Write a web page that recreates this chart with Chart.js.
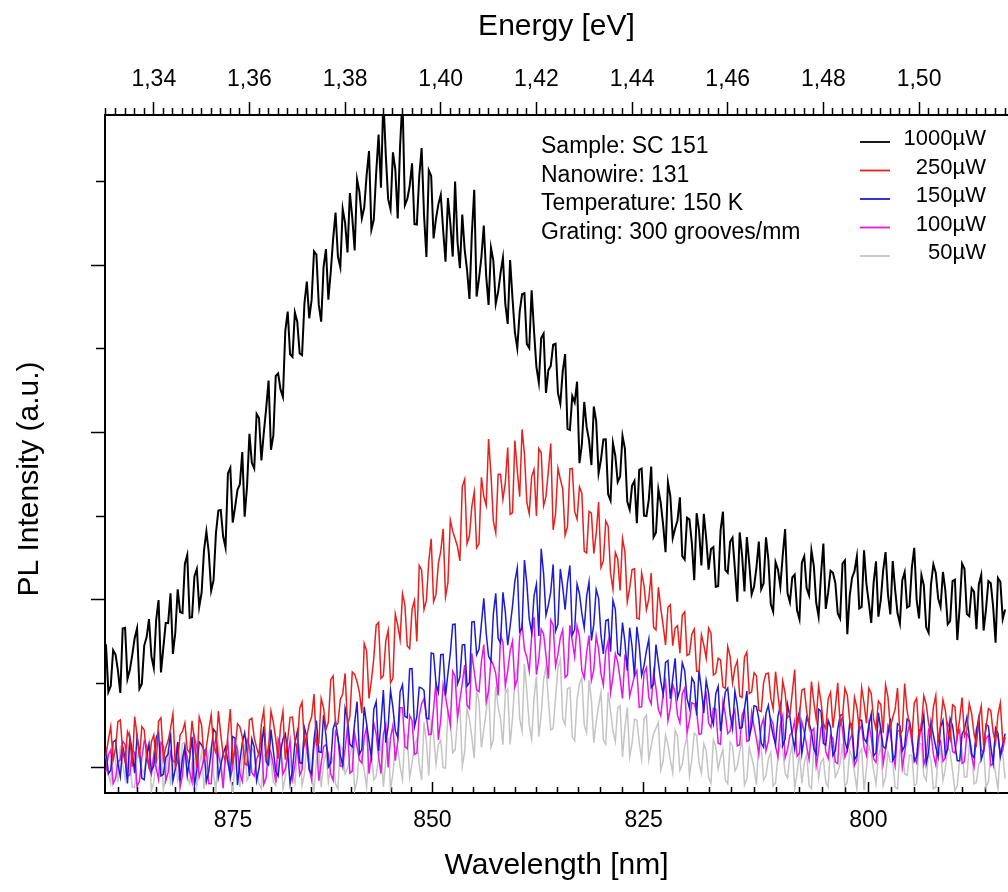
<!DOCTYPE html>
<html>
<head>
<meta charset="utf-8">
<script src="https://cdn.jsdelivr.net/npm/chart.js@4.4.1/dist/chart.umd.min.js"></script>
<style>html,body{margin:0;padding:0;background:#fff;overflow:hidden}canvas{display:block}</style>
</head>
<body>
<canvas id="c" width="1008" height="892"></canvas>
<script>
// ---- sampling grid (photon energy, eV) ----
const energyStart = 1.330;
const energyStep = 0.0005;

// ---- series (PL intensity, arbitrary units) ----
const seriesLabels = ['1000\u00B5W', '250\u00B5W', '150\u00B5W', '100\u00B5W', '50\u00B5W'];
const seriesColors = ['#000000', 'rgb(232,32,30)', 'rgb(28,28,212)', 'rgb(228,24,228)', 'rgb(196,196,196)'];

const p1000 = [734,449,484,699,673,578,443,828,832,527,
582,671,770,829,468,497,726,775,884,663,
592,880,998,566,714,862,860,1038,676,804,
1062,926,920,1214,1268,892,896,1140,1184,958,
1042,1295,1408,1281,1054,1117,1400,1533,1536,1379,
1312,1755,1788,1461,1554,1657,1690,1883,1496,1679,
1992,1818,1784,2110,2086,1832,1998,2144,2310,1896,
1982,2337,2352,2257,2212,2607,2722,2467,2452,2717,
2662,2472,2462,2772,2902,2682,2792,3082,3062,2762,
2662,2989,3096,2793,2960,3157,3314,3051,2988,3335,
3252,3076,3430,3284,3088,3512,3436,3280,3344,3538,
3682,3212,3272,3552,3780,3463,4000,3663,3394,3334,
3674,3571,3278,3714,4000,3358,3395,3471,3608,3245,
3242,3529,3700,3302,3049,3566,3533,3159,3276,3363,
3420,3210,3020,3400,3251,3051,3500,3141,2982,3302,
3092,2970,2798,3186,3450,2812,2920,3048,3236,2934,
2762,3104,3026,2768,2840,2952,3044,2766,2648,3030,
2802,2598,2504,2720,2826,2832,2528,2504,2850,2606,
2392,2298,2564,2590,2236,2372,2398,2524,2530,2236,
2172,2365,2468,2021,2014,2217,2180,2303,1816,1929,
2182,2033,1954,1805,2155,2066,1757,1838,1958,1959,
1630,1593,1936,1860,1703,1736,1979,1903,1586,1539,
1682,1710,1458,1776,1784,1502,1500,1598,1796,1374,
1402,1660,1578,1446,1284,1702,1620,1368,1426,1474,
1612,1261,1240,1490,1479,1338,1117,1517,1416,1205,
1514,1367,1180,1303,1315,1078,1081,1414,1526,1179,
1162,1346,1370,1184,988,1402,1266,1050,1374,1218,
1032,1077,1192,1348,1063,1098,1373,1239,974,929,
1224,1181,1078,1265,1422,1039,986,1133,1150,937,
884,1222,1260,1069,1027,1295,1203,982,900,1148,
1336,945,1044,1173,1161,1100,919,888,1216,1235,
794,1023,1132,1171,1259,948,957,1296,1094,983,
862,1101,1230,899,997,1176,1285,1034,912,1231,
1060,919,858,1117,1165,954,963,1192,1310,999,
888,1147,1086,835,803,1092,1211,1160,1008,957,
1166,1055,854,873,1111,1120,759,958,1216,1185,
914,902,1069,1047,824,1091,1148,816,943,1111,
1098,956,743,1130,1107,885,942];

const p250 = [72,162,242,42,112,272,282,92,32,212,
172,2,302,192,52,242,222,62,2,152,
192,23,274,295,46,116,157,228,319,0,
31,192,213,264,105,85,276,157,-2,299,
250,50,121,221,312,123,84,334,195,75,
36,196,347,37,108,259,240,180,21,11,
282,293,175,116,68,259,341,62,114,335,
267,168,50,241,333,44,166,297,299,160,
102,350,388,135,183,261,299,436,134,142,
410,353,226,269,522,545,248,261,404,437,
560,256,302,568,554,510,446,322,738,694,
410,516,652,848,864,530,546,752,818,504,
530,914,848,762,1036,970,724,708,942,996,
750,1204,1178,942,996,1230,1364,988,1032,1216,
1290,1424,1018,1102,1476,1410,1364,1318,1232,1676,
1720,1336,1382,1558,1644,1310,1336,1732,1618,1564,
1960,1750,1470,1400,1750,1750,1600,1700,1910,1510,
1520,1952,1774,1616,2018,1870,1582,1514,1736,1778,
1500,1904,1878,1562,1616,1770,1934,1418,1512,1786,
1720,1663,1386,1439,1782,1785,1528,1481,1674,1637,
1290,1279,1528,1517,1276,1395,1584,1193,1232,1471,
1440,1161,1062,1283,1244,1055,1366,1287,988,1069,
1180,1185,890,885,1160,1085,940,1005,1160,835,
820,1075,950,845,730,955,970,725,830,845,
680,909,928,667,676,795,824,573,572,791,
730,650,830,800,550,560,650,640,480,470,
720,661,502,593,634,425,416,657,688,439,
450,563,546,339,332,505,558,561,414,347,
570,435,310,515,441,296,311,446,582,237,
312,460,468,335,243,511,389,286,484,392,
260,229,408,447,236,355,504,253,302,471,
430,279,208,417,356,225,474,383,262,471,
440,288,227,395,374,202,491,419,238,296,
345,473,192,220,499,337,256,174,383,411,
190,248,426,374,262,190,359,427,145,253,
401,339,217,165,373,361,180,288,416,184,
222,380,319,197,136,285,364,132,231,349,
338,206,145,314,383,151,180];

const p150 = [110,-40,-19,151,161,21,-58,122,52,-98,
183,93,-36,184,94,-66,-75,65,135,-25,
6,176,207,-53,-43,57,78,208,-82,-12,
149,-81,50,120,-49,50,181,-109,-19,151,
132,103,-86,-26,95,226,207,-63,8,79,
120,30,-49,182,173,-107,34,145,206,96,
-53,168,119,-81,-10,111,242,32,13,224,
95,-25,-54,87,168,198,89,-100,-19,141,
212,26,21,235,180,-16,-41,163,278,92,
87,311,186,0,24,229,274,178,73,7,
352,288,134,120,266,392,78,104,360,256,
152,58,345,391,97,263,460,146,242,458,
355,216,178,450,492,303,295,587,589,240,
302,477,472,457,292,287,682,677,502,447,
672,674,426,558,680,852,854,496,538,730,
732,484,506,868,870,672,704,856,1008,800,
662,634,916,1038,770,742,1044,926,728,840,
962,1111,1190,809,828,1237,1096,885,804,1023,
1092,783,1304,1156,907,968,1049,1211,812,853,
1184,1077,940,1103,1205,788,821,1094,1036,919,
832,1020,1107,756,854,1062,1010,788,676,874,
882,689,996,943,679,666,863,750,576,833,
720,539,838,728,547,606,694,765,474,493,
732,623,514,435,626,637,408,529,650,411,
462,624,576,409,351,533,505,308,580,462,
324,517,440,303,255,438,482,214,336,449,
472,316,230,454,368,232,236,350,454,178,
242,367,362,288,143,118,323,369,264,189,
134,302,370,128,166,374,301,189,107,275,
333,81,179,297,264,212,110,78,346,334,
142,131,280,240,69,98,227,307,316,155,
104,264,253,42,71,281,280,169,148,248,
317,66,85,325,224,123,112,192,291,40,
69,259,248,97,126,286,276,194,34,63,
222,222,311,21,91,271,190,120,60,240,
279,69,109,289,248,138,38,38,197,227,
297,187,76,56,216,296,45,95,255,245,
124,24,233,203,62,141,200];

const p100 = [-28,72,102,-98,-67,33,43,153,134,-56,
-46,104,85,-115,-85,55,156,126,-4,-44,
77,-3,-73,147,127,-83,-32,88,38,28,
149,-121,-51,119,60,-30,-90,180,121,-59,
-9,51,101,-99,-98,112,172,72,13,-127,
73,143,-66,-6,144,104,-35,-85,55,165,
126,-34,-54,46,86,176,-103,-63,117,87,
8,-92,168,128,-41,-11,69,159,-70,10,
140,-48,-16,196,108,-10,-78,134,176,-82,
20,122,134,76,-42,-80,212,174,6,8,
110,242,-36,-24,198,120,42,24,176,238,
-40,76,262,198,64,-40,196,252,-2,174,
250,38,147,355,354,122,110,308,277,75,
84,306,378,410,302,194,196,348,510,162,
284,493,423,332,252,572,542,301,401,500,
610,370,350,680,571,461,451,631,732,392,
452,641,610,559,428,787,746,485,574,693,
752,478,524,780,856,702,658,574,780,896,
552,643,824,795,667,528,879,850,602,673,
774,820,536,551,847,753,659,844,780,576,
532,684,786,518,581,783,705,557,490,692,
754,445,536,677,628,529,410,661,632,423,
484,545,577,358,360,562,594,415,377,568,
470,343,307,440,514,277,350,493,447,310,
264,438,472,206,280,384,378,332,196,200,
394,438,263,237,352,347,142,136,391,315,
200,216,303,340,127,133,310,347,154,160,
327,243,170,77,244,290,97,154,291,257,
124,62,250,308,56,103,191,209,277,65,
83,271,209,127,45,212,230,8,96,234,
262,92,52,191,171,31,21,281,231,60,
100,160,200,10,40,219,249,119,69,259,
179,48,28,178,238,18,108,247,207,87,
7,217,217,-4,86,186,256,146,56,25,
155,265,15,65,225,204,74,14,184,154,
34,53,263,233,93,83,193,222,22,32,
202,172,62,1,231,251,101,91,171,190,
10,20,210,180,70,100,180];

const p50 = [70,-40,-100,110,40,-90,130,20,-70,140,
20,-120,-120,60,100,-10,-40,100,150,-140,
-90,30,60,120,-130,-70,110,-110,10,90,
-80,-30,140,150,-60,-100,30,50,-110,10,
90,-130,-20,80,120,-50,-140,140,50,-90,
100,30,-70,-150,20,110,-120,60,130,-80,
-50,120,80,-20,-100,-130,60,90,140,40,
-90,-110,30,150,-130,-60,110,20,-30,-100,
70,130,-110,-40,150,80,-60,-140,40,110,
-120,20,90,-90,10,60,-100,-130,130,100,
-40,-10,60,140,-140,-80,100,50,-20,-120,
120,92,-76,-54,58,140,-118,34,176,-132,
-40,124,118,2,-74,200,184,-62,22,126,
170,16,-78,268,154,-50,276,192,18,134,
160,-3,-6,342,279,86,103,281,378,5,
92,350,288,176,53,461,389,117,224,332,
480,117,164,482,359,286,133,441,468,135,
292,515,598,291,214,617,450,253,166,409,
542,182,312,522,602,402,222,232,412,592,
642,288,254,470,475,181,157,403,498,534,
250,204,518,402,146,270,364,448,162,136,
450,334,217,151,354,367,60,234,357,61,
144,287,280,143,45,288,311,44,126,199,
232,267,-18,37,191,136,41,-34,220,185,
-20,17,124,181,-52,45,202,189,26,-37,
140,98,-64,-96,162,120,-12,56,104,-78,
-100,149,128,-23,5,94,163,-108,-70,119,
58,-3,-105,154,123,-78,-50,49,88,-113,
-95,65,135,105,-36,-66,64,134,-127,-37,
93,-97,22,82,-108,-128,121,111,-69,31,
50,-90,-120,140,100,-60,-30,20,140,-120,
-90,100,60,-30,-130,80,110,-140,-10,130,
80,-20,-100,60,130,-110,-60,90,30,30,
-120,-130,100,120,-40,-50,70,70,-110,-100,
140,140,-50,-80,90,40,-130,-120,60,100,
-80,-10,120,90,-20,-140,-110,50,100,-60,
-60,130,130,-100,-90,20,40,110,-120,-90,
80,60,-40,-130,110,80,-70];

// ---- axes ----
const energyRange = [1.3298, 1.5186];          // top axis (eV)
const energyMajorTicks = [1.34, 1.36, 1.38, 1.40, 1.42, 1.44, 1.46, 1.48, 1.50];
const energyMinorStep = 0.002;
const wavelengthMajorTicks = [875, 850, 825, 800]; // bottom axis (nm)
const wavelengthMinorStep = 2.5;
const wavelengthAxisShiftEv = 0.0604;          // bottom-axis calibration offset as drawn
const hcEvNm = 1239.84;
const intensityRange = [-155, 3897];
const intensityMajorTicks = [0, 1000, 2000, 3000];
const intensityMinorTicks = [500, 1500, 2500, 3500];

const annotationLines = ['Sample: SC 151', 'Nanowire: 131', 'Temperature: 150 K', 'Grating: 300 grooves/mm'];

// ---- build ----
const FONT = "'Liberation Sans', Arial, Helvetica, sans-serif";
Chart.defaults.font.family = FONT;
Chart.defaults.color = '#000';

const seriesValues = [p1000, p250, p150, p100, p50];
const datasets = seriesValues.map((vals, s) => ({
  label: seriesLabels[s],
  data: vals.map((v, i) => ({ x: energyStart + i * energyStep, y: v })),
  borderColor: seriesColors[s],
  borderWidth: s === 0 ? 2 : 1.5,
  pointRadius: 0,
  tension: 0,
  fill: false,
  xAxisID: 'xTop',
  yAxisID: 'y'
}));

function energyTicks() {
  const out = [];
  const k0 = Math.ceil(energyRange[0] / energyMinorStep - 1e-6);
  const k1 = Math.floor(energyRange[1] / energyMinorStep + 1e-6);
  for (let k = k0; k <= k1; k++) {
    const v = +(k * energyMinorStep).toFixed(3);
    const major = energyMajorTicks.some(m => Math.abs(m - v) < 1e-6);
    out.push({ value: v, major });
  }
  return out;
}
function wavelengthTicks() {
  const out = [];
  const lo = energyRange[0] + wavelengthAxisShiftEv, hi = energyRange[1] + wavelengthAxisShiftEv;
  for (let k = 400; k >= 300; k--) {
    const nm = k * wavelengthMinorStep;
    const u = hcEvNm / nm;
    if (u < lo || u > hi) continue;
    out.push({ value: u, nm, major: wavelengthMajorTicks.includes(nm) });
  }
  return out;
}
function intensityTicks() {
  return intensityMajorTicks.map(v => ({ value: v, major: true }))
    .concat(intensityMinorTicks.map(v => ({ value: v, major: false })))
    .sort((a, b) => a.value - b.value);
}
const isMajor = c => c.tick && c.tick.major;
const noSidePadding = s => { s.paddingLeft = 0; s.paddingRight = 0; };

const overlayPlugin = {
  id: 'overlay',
  afterDraw(chart) {
    const ctx = chart.ctx;
    ctx.save();
    ctx.fillStyle = '#000';
    ctx.textBaseline = 'middle';
    ctx.font = '23px ' + FONT;
    ctx.textAlign = 'left';
    annotationLines.forEach((t, i) => ctx.fillText(t, 541, 147 + i * 28.4));
    ctx.font = '22px ' + FONT;
    ctx.textAlign = 'right';
    chart.data.datasets.forEach((ds, i) => {
      const y = 139 + i * 28.5;
      ctx.strokeStyle = ds.borderColor;
      ctx.lineWidth = 1.8;
      ctx.beginPath();
      ctx.moveTo(860, y + 3);
      ctx.lineTo(890, y + 3);
      ctx.stroke();
      ctx.fillText(ds.label, 986, y);
    });
    ctx.restore();
  }
};

new Chart(document.getElementById('c'), {
  type: 'line',
  data: { datasets },
  plugins: [overlayPlugin],
  options: {
    responsive: false,
    animation: false,
    events: [],
    layout: { padding: 0 },
    plugins: { legend: { display: false }, tooltip: { enabled: false } },
    scales: {
      xTop: {
        type: 'linear', position: 'top', z: 1,
        min: energyRange[0], max: energyRange[1],
        afterBuildTicks: s => { s.ticks = energyTicks(); },
        afterFit: s => { s.height = 115; noSidePadding(s); },
        border: { display: true, color: '#000', width: 2 },
        grid: {
          drawOnChartArea: false, drawTicks: true, tickLength: 13,
          tickColor: '#000', tickWidth: 1.5,
          tickBorderDash: c => isMajor(c) ? [] : [0, 6, 6, 100]
        },
        ticks: {
          autoSkip: false, maxRotation: 0, minRotation: 0, padding: 9,
          font: { size: 23 }, color: '#000',
          callback: (v, i, t) => t[i].major ? t[i].value.toFixed(2).replace('.', ',') : ''
        },
        title: { display: true, text: 'Energy [eV]', font: { size: 30 }, color: '#000', padding: { top: 9, bottom: 0 } }
      },
      x: {
        type: 'linear', position: 'bottom', z: 1,
        min: energyRange[0] + wavelengthAxisShiftEv, max: energyRange[1] + wavelengthAxisShiftEv,
        afterBuildTicks: s => { s.ticks = wavelengthTicks(); },
        afterFit: s => { s.height = 99; noSidePadding(s); },
        border: { display: true, color: '#000', width: 2 },
        grid: {
          drawOnChartArea: false, drawTicks: true, tickLength: -11,
          tickColor: '#000', tickWidth: 1.5,
          tickBorderDash: c => isMajor(c) ? [] : [7, 100]
        },
        ticks: {
          autoSkip: false, maxRotation: 0, minRotation: 0, padding: 25,
          font: { size: 23 }, color: '#000',
          callback: (v, i, t) => t[i].major ? String(t[i].nm) : ''
        },
        title: { display: true, text: 'Wavelength [nm]', font: { size: 30 }, color: '#000', padding: { top: 0, bottom: 8 } }
      },
      y: {
        type: 'linear', position: 'left', z: 1,
        min: intensityRange[0], max: intensityRange[1],
        afterBuildTicks: s => { s.ticks = intensityTicks(); },
        afterFit: s => { s.width = 105; },
        border: { display: true, color: '#000', width: 2 },
        grid: {
          drawOnChartArea: false, drawTicks: true, tickLength: 14,
          tickColor: '#000', tickWidth: 1.5,
          tickBorderDash: c => isMajor(c) ? [] : [0, 5, 8, 100]
        },
        ticks: { display: false },
        title: { display: true, text: 'PL Intensity (a.u.)      ', font: { size: 30 }, color: '#000', padding: { top: 12, bottom: 0 } }
      }
    }
  }
});
</script>
</body>
</html>
